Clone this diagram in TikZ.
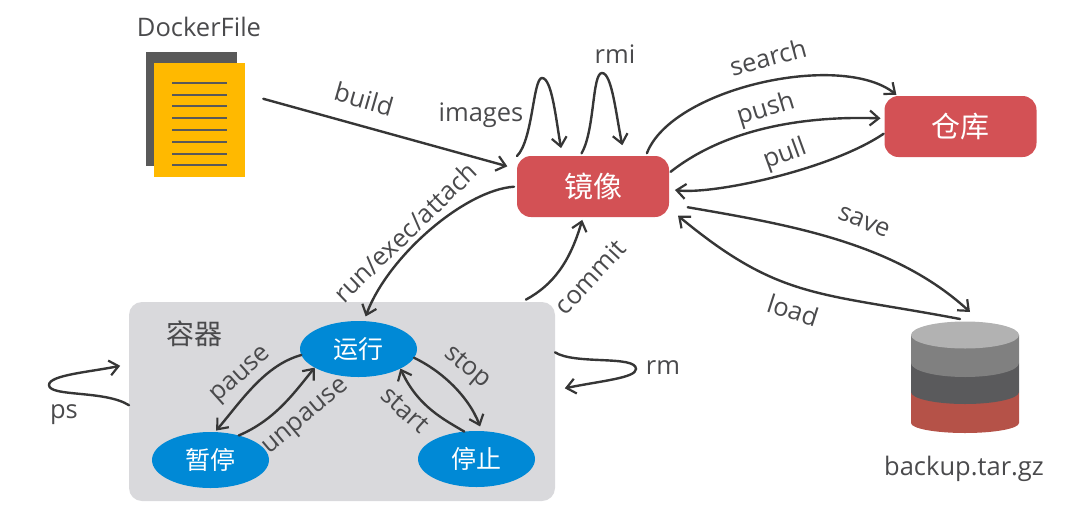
\documentclass[tikz,border=0pt]{standalone}
\usepackage{fontspec}
\setmainfont{Open Sans}
\newfontfamily\cjk{Noto Sans CJK SC}
\usetikzlibrary{arrows.meta,shapes.geometric}
\definecolor{labelgray}{HTML}{4A4A4C}
\definecolor{arrowgray}{HTML}{363636}
\definecolor{imagered}{HTML}{D35155}
\definecolor{boxgray}{HTML}{D9D9DC}
\definecolor{stateblue}{HTML}{0089D6}
\definecolor{docorange}{HTML}{FFB900}
\definecolor{docgray}{HTML}{595959}
\definecolor{layerone}{HTML}{808080}
\definecolor{layertwo}{HTML}{5A5A5C}
\definecolor{layerthree}{HTML}{B55248}
\definecolor{layertop}{HTML}{B2B2B2}
\tikzset{
  lbl/.style={font=\fontsize{25.5}{29}\selectfont,text=labelgray,inner sep=0pt},
  conn/.style={-{Straight Barb[length=9pt,width=15pt,line width=2.2pt]},line width=2.4pt,draw=arrowgray,line cap=round},
  redbox/.style={rectangle,rounded corners=14pt,fill=imagered,text=white,minimum width=152pt,minimum height=61pt,inner sep=0pt,outer sep=0pt,font=\cjk\fontsize{29}{33}\selectfont},
  state/.style={ellipse,fill=stateblue,text=white,minimum width=117pt,minimum height=56pt,inner sep=0pt,outer sep=0pt,font=\cjk\fontsize{25}{29}\selectfont}
}
\begin{document}
\begin{tikzpicture}[x=1pt,y=-1pt]
  \useasboundingbox (0,0) rectangle (1077,520);
  \fill[docgray] (146,52) rectangle (237,166);
  \node[rectangle,fill=docorange,minimum width=91pt,minimum height=114pt,inner sep=0pt,outer sep=0pt] (doc) at (199.5,120) {};
  \foreach \y in {83,95,106,118,130,142,154,165}
    \draw[docgray,line width=2pt] (172,\y) -- (227,\y);
  \node[lbl] (dockerfile) at (199,27) {DockerFile};

  \node[redbox] (image) at (593,186.5) {镜像};
  \node[redbox] (repo) at (960.5,126.5) {仓库};

  \node[rectangle,rounded corners=13pt,fill=boxgray,minimum width=426pt,minimum height=199pt,inner sep=0pt,outer sep=0pt] (box) at (342,401.5) {};
  \node[lbl,font=\cjk\fontsize{28}{32}\selectfont] (boxname) at (194,334) {容器};
  \node[state] (running) at (358.5,349) {运行};
  \node[state] (paused) at (210.5,460) {暂停};
  \node[state] (stopped) at (476.5,459) {停止};

  \foreach \ytop/\ybot/\rad/\colr in {392/423/10/layerthree,363/392/12/layertwo,335/363/14/layerone}
    \fill[\colr] (911,\ytop) -- (911,\ybot) arc[start angle=180,end angle=360,x radius=54pt,y radius=\rad pt] -- (1019,\ytop) -- cycle;
  \fill[layertop] (965,335) ellipse[x radius=54pt,y radius=13.5pt];
  \coordinate (backupin) at (970,312);
  \coordinate (backupout) at (960,319);
  \node[lbl] (backup) at (964,469) {backup.tar.gz};

  \draw[conn,shorten <=19pt,shorten >=10pt] (doc.30) -- (image.167);
  \draw[conn,shorten >=8pt] (image.north west) .. controls (533,140) and (533,78) .. (542,78) .. controls (552,78) and (556,120) .. (image.135);
  \draw[conn,shorten <=3pt,shorten >=11pt] (image.113) .. controls (595,130) and (592,73) .. (602,73) .. controls (612,73) and (616,115) .. (image.44);
  \draw[conn,shorten <=3pt,shorten >=2pt] (image.30) .. controls (672,88) and (841,51) .. (repo.154);
  \draw[conn,shorten <=2pt,shorten >=4pt] (image.10) .. controls (730,125) and (814,116) .. (repo.174);
  \draw[conn,shorten <=1pt,shorten >=6pt] (repo.185) .. controls (830,170) and (712,195) .. (image.358);
  \draw[conn,shorten <=19pt] (image.347) .. controls (791,225) and (895,243) .. (backupin);
  \draw[conn,shorten >=11.7pt] (backupout) .. controls (818,292) and (780,300) .. (image.344);
  \draw[conn,shorten <=3pt,shorten >=5pt] (image.180) .. controls (465,190) and (388,256) .. (running.79);
  \draw[conn,shorten <=5pt,shorten >=3pt] (box.29.3) .. controls (553,285) and (570,262) .. (image.252);
  \draw[conn,shorten >=9pt] (box.181) .. controls (105,390) and (49,397) .. (49,385) .. controls (49,375) and (90,372) .. (box.170);
  \draw[conn,shorten >=10pt] (box.13.3) .. controls (575,365) and (636,355) .. (636,369) .. controls (636,378) and (600,381) .. (box.3);
  \draw[conn,shorten >=2pt] (running.186) .. controls (265,365) and (242,400) .. (paused.81);
  \draw[conn] (paused.41) .. controls (275,420) and (294,393) .. (running.203);
  \draw[conn,shorten >=5pt] (running.351) .. controls (440,370) and (468,395) .. (stopped.79);
  \draw[conn] (stopped.114) .. controls (445,420) and (418,407) .. (running.335);

  \node[lbl,rotate=-16] (buildlbl) at (364,99) {build};
  \node[lbl] (imageslbl) at (481,115) {images};
  \node[lbl] (rmilbl) at (615,54) {rmi};
  \node[lbl,rotate=15] (searchlbl) at (768,57) {search};
  \node[lbl,rotate=17] (pushlbl) at (766,110) {push};
  \node[lbl,rotate=20] (pulllbl) at (785,155) {pull};
  \node[lbl,rotate=-22] (savelbl) at (864,222) {save};
  \node[lbl,rotate=-18] (loadlbl) at (793,310) {load};
  \node[lbl,rotate=44] (runlbl) at (405,232) {run/exec/attach};
  \node[lbl,rotate=47] (commitlbl) at (590,277) {commit};
  \node[lbl,rotate=42] (pauselbl) at (242,376) {pause};
  \node[lbl,rotate=40] (unpauselbl) at (307,418) {unpause};
  \node[lbl,rotate=-40] (stoplbl) at (467,368) {stop};
  \node[lbl,rotate=-42] (startlbl) at (405,410) {start};
  \node[lbl] (rmlbl) at (663,368) {rm};
  \node[lbl] (pslbl) at (64,415) {ps};
\end{tikzpicture}
\end{document}
